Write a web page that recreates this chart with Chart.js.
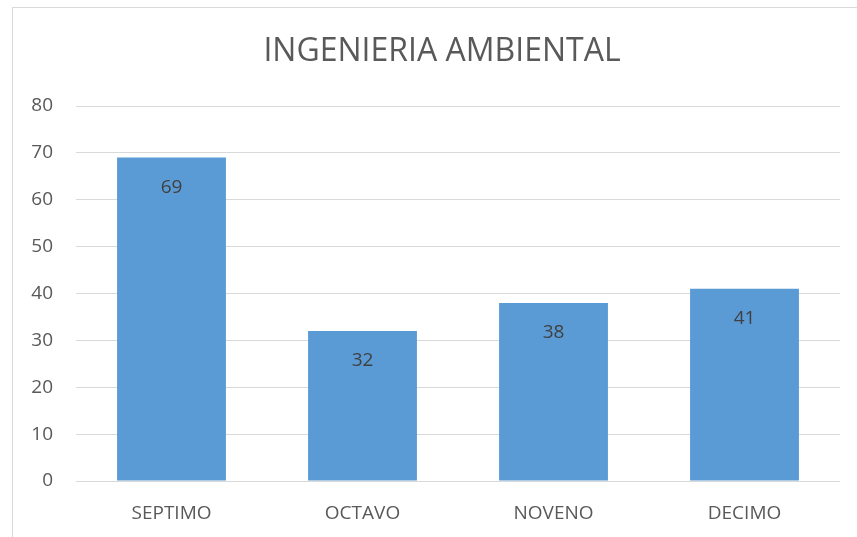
<!DOCTYPE html>
<html><head><meta charset="utf-8">
<script src="https://cdn.jsdelivr.net/npm/chart.js@4"></script>
<style>
html,body{margin:0;padding:0;background:#fff;width:857px;height:537px;overflow:hidden;}
#frame{position:absolute;left:12px;top:7px;width:900px;height:600px;border:1px solid #D9D9D9;box-sizing:border-box;}
#wrap{position:absolute;left:0;top:0;width:857px;height:537px;}
</style></head>
<body>
<div id="frame"></div>
<div id="wrap"><canvas id="c" width="857" height="537"></canvas></div>
<script>
const categories = ["SEPTIMO", "OCTAVO", "NOVENO", "DECIMO"];
const values = [69, 32, 38, 41];
const chartTitle = "INGENIERIA AMBIENTAL";
const FONT = "'Open Sans', 'Liberation Sans', sans-serif";

const valueLabels = {
  id: 'valueLabels',
  afterDatasetsDraw(chart) {
    const ctx = chart.ctx;
    const meta = chart.getDatasetMeta(0);
    ctx.save();
    ctx.font = "19px " + FONT;
    ctx.fillStyle = "#404040";
    ctx.textAlign = "center";
    ctx.textBaseline = "middle";
    meta.data.forEach((bar, i) => {
      ctx.fillText(String(values[i]), bar.x, bar.y + 30);
    });
    ctx.restore();
  }
};

const frameTitle = {
  id: 'frameTitle',
  afterDraw(chart, args, opts) {
    const ctx = chart.ctx;
    ctx.save();
    ctx.font = "32px " + FONT;
    ctx.fillStyle = "#595959";
    ctx.textAlign = "center";
    ctx.textBaseline = "middle";
    ctx.fillText(opts.text, opts.x, opts.y);
    ctx.restore();
  }
};

new Chart(document.getElementById('c'), {
  type: 'bar',
  data: {
    labels: categories,
    datasets: [{
      data: values,
      backgroundColor: '#5B9BD5',
      borderWidth: 0,
      categoryPercentage: 1.0,
      barPercentage: 0.57
    }]
  },
  options: {
    responsive: false,
    animation: false,
    devicePixelRatio: 1,
    layout: { padding: { left: 0, right: 17, top: 106, bottom: 0 } },
    plugins: {
      legend: { display: false },
      tooltip: { enabled: false },
      title: { display: false },
      frameTitle: { text: chartTitle, x: 442, y: 52 }
    },
    scales: {
      x: {
        grid: { display: false, drawTicks: false },
        border: { display: false },
        ticks: { color: '#595959', font: { family: FONT, size: 19 }, padding: 21 },
        afterFit(s) { s.height = 56; }
      },
      y: {
        min: 0, max: 80,
        ticks: { stepSize: 10, color: '#595959', font: { family: FONT, size: 19 }, padding: 23 },
        grid: { color: '#D9D9D9', lineWidth: 1, drawTicks: false },
        border: { display: false },
        afterFit(s) { s.width = 76; }
      }
    }
  },
  plugins: [valueLabels, frameTitle]
});
</script>
</body></html>
